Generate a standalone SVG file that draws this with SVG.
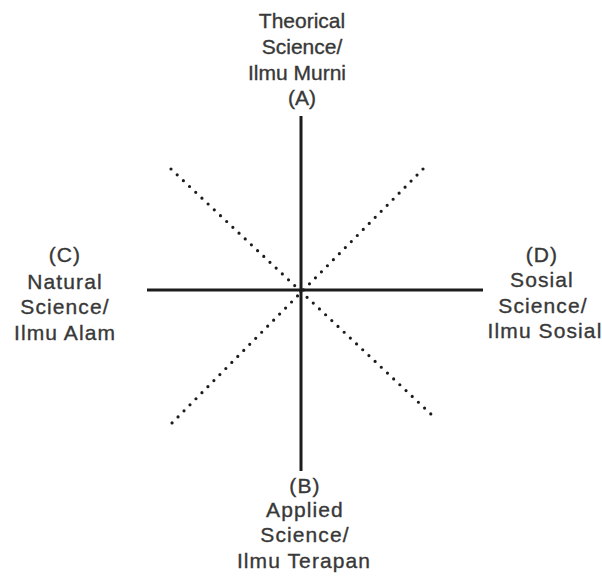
<svg xmlns="http://www.w3.org/2000/svg" width="602" height="576" viewBox="0 0 602 576">
<style>
.t{font-family:"Liberation Sans",Arial,sans-serif;font-size:21px;fill:#383838;stroke:#383838;stroke-width:0.35;text-anchor:middle}
.w{letter-spacing:1.1px}
.axis{stroke:#1c1c1c;stroke-width:3;fill:none}
.dot{stroke:#1c1c1c;stroke-width:3.2;stroke-linecap:round;stroke-dasharray:0 8.5;fill:none}
</style>
<rect width="602" height="576" fill="#ffffff"/>
<g id="connectors">
<line class="axis" x1="301" y1="116" x2="301" y2="471"/>
<line class="axis" x1="147" y1="290" x2="483" y2="290"/>
<line class="dot" x1="171" y1="169" x2="433" y2="416"/>
<line class="dot" x1="423" y1="169" x2="171" y2="424"/>
</g>
<g id="A">
<text class="t" x="302" y="28">Theorical</text>
<text class="t" x="302" y="54">Science/</text>
<text class="t" x="297" y="80">Ilmu Murni</text>
<text class="t" x="302" y="105">(A)</text>
</g>
<g id="B">
<text class="t w" x="305" y="493">(B)</text>
<text class="t w" x="305" y="517">Applied</text>
<text class="t w" x="305" y="542">Science/</text>
<text class="t w" x="304" y="568">Ilmu Terapan</text>
</g>
<g id="C">
<text class="t w" x="65" y="262">(C)</text>
<text class="t w" x="65" y="289">Natural</text>
<text class="t w" x="65" y="314">Science/</text>
<text class="t w" x="65" y="340">Ilmu Alam</text>
</g>
<g id="D">
<text class="t w" x="542" y="262">(D)</text>
<text class="t w" x="542" y="287">Sosial</text>
<text class="t w" x="543" y="313">Science/</text>
<text class="t w" x="545" y="338">Ilmu Sosial</text>
</g>
</svg>
